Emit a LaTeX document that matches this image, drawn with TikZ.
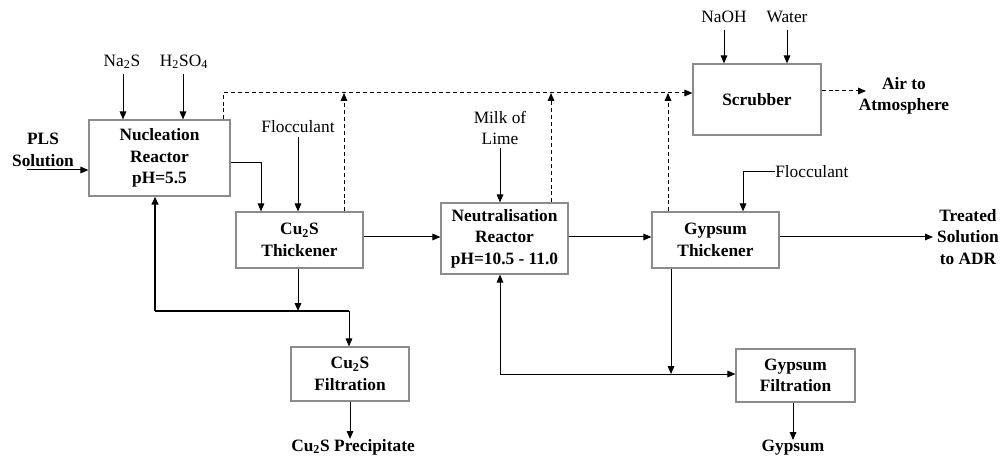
\documentclass[tikz,border=0pt]{standalone}
\usepackage{fontspec}
\setmainfont{Liberation Serif}
\usetikzlibrary{arrows.meta,calc}
\begin{document}
\begin{tikzpicture}[x=0.75pt,y=-0.75pt,
  every node/.style={font=\fontsize{13}{16}\selectfont, align=center, inner sep=0pt},
  box/.style={draw=boxgray, line width=0.9pt, font=\fontsize{13}{16}\selectfont\bfseries},
  lab/.style={font=\fontsize{13}{16}\selectfont},
  blab/.style={font=\fontsize{13}{16}\selectfont\bfseries},
  flow/.style={line width=0.75pt, -{Triangle[length=6pt,width=5pt]}},
  plain/.style={line width=0.75pt},
  vent/.style={line width=0.75pt, dash pattern=on 3pt off 2.2pt, -{Triangle[length=6pt,width=5pt]}},
  heavy/.style={line width=1.5pt},
]
\definecolor{boxgray}{RGB}{140,140,140}
\useasboundingbox (0,0) rectangle (1005,459);

% boxes
\node[box, minimum width=141*0.75pt, minimum height=76*0.75pt] (nuc) at (159.5,158) {Nucleation\\Reactor\\pH=5.5};
\node[box, minimum width=127*0.75pt, minimum height=56*0.75pt] (cth) at (299.5,240) {Cu\textsubscript{2}S\\Thickener};
\node[box, minimum width=118*0.75pt, minimum height=54*0.75pt] (cfl) at (350,374) {Cu\textsubscript{2}S\\Filtration};
\node[box, minimum width=127*0.75pt, minimum height=71*0.75pt] (neu) at (504.5,238.5) {Neutralisation\\Reactor\\pH=10.5 - 11.0};
\node[box, minimum width=127*0.75pt, minimum height=56*0.75pt] (gth) at (715.5,240) {Gypsum\\Thickener};
\node[box, minimum width=119*0.75pt, minimum height=53*0.75pt] (gfl) at (795.5,375.5) {Gypsum\\Filtration};
\node[box, minimum width=128*0.75pt, minimum height=71*0.75pt] (scr) at (757,99.5) {Scrubber};

% labels
\node[lab] (na2s) at (122,62) {Na\textsubscript{2}S};
\node[lab] (h2so4) at (184,62) {H\textsubscript{2}SO\textsubscript{4}};
\node[blab] (pls) at (43,150) {PLS\\Solution};
\node[lab] (floc1) at (298,127) {Flocculant};
\node[lab] (milk) at (500,128) {Milk of\\Lime};
\node[lab] (naoh) at (724,17) {NaOH};
\node[lab] (water) at (787,17) {Water};
\node[blab] (air) at (904,96) {Air to\\Atmosphere};
\node[lab, anchor=west] (floc2) at (775,172) {Flocculant};
\node[blab] (treat) at (968,237) {Treated\\Solution\\to ADR};
\node[blab] (cup) at (353,447) {Cu\textsubscript{2}S Precipitate};
\node[blab] (gyp) at (793,448) {Gypsum};

\coordinate (plsin) at (27,170);
\coordinate (airout) at (866,91);
\coordinate (treatin) at (933,237);
\coordinate (loopL) at (155,311);
\coordinate (loopR) at (349,311);
\coordinate (gloop) at (500,374);

% reagent feeds
\draw[flow] (123,74) -- (123,0 |- nuc.north);
\draw[flow] (183,74) -- (183,0 |- nuc.north);
\draw[flow] (plsin) -- (plsin -| nuc.west);
\draw[flow] (298,137) -- (298,0 |- cth.north);
\draw[flow] (500,148) -- (500,0 |- neu.north);
\draw[flow] (724,30) -- (724,0 |- scr.north);
\draw[flow] (787,30) -- (787,0 |- scr.north);
\draw[flow] (floc2.west) -| (743,0 |- gth.north);

% main flow
\draw[flow] (nuc.east |- 0,163) -| (261,0 |- cth.north);
\draw[flow] (cth.east |- 0,237) -- (neu.west |- 0,237);
\draw[flow] (neu.east |- 0,237) -- (gth.west |- 0,237);
\draw[flow] (gth.east |- treatin) -- (treatin);

% Cu2S underflow loop
\draw[flow] (298,0 |- cth.south) -- (298,311);
\draw[heavy] (loopL) -- (loopR);
\draw[heavy, -{Triangle[length=6pt,width=5pt]}] (loopL) -- (loopL |- nuc.south);
\draw[flow] (loopR) -- (loopR |- cfl.north);
\draw[flow] (350,0 |- cfl.south) -- (350,439);

% Gypsum underflow loop
\draw[flow] (671,0 |- gth.south) -- (671,374);
\draw[flow] (gloop) -- (gloop -| gfl.west);
\draw[flow] (gloop) -- (gloop |- neu.south);
\draw[flow] (793,0 |- gfl.south) -- (793,440);

% vent lines
\draw[vent] (223,0 |- nuc.north) -- (223,93) -- (93,93 -| scr.west);
\draw[vent] (344,0 |- cth.north) -- (344,93);
\draw[vent] (551,0 |- neu.north) -- (551,93);
\draw[vent] (668,0 |- gth.north) -- (668,93);
\draw[vent] (scr.east |- airout) -- (airout);
\end{tikzpicture}
\end{document}
